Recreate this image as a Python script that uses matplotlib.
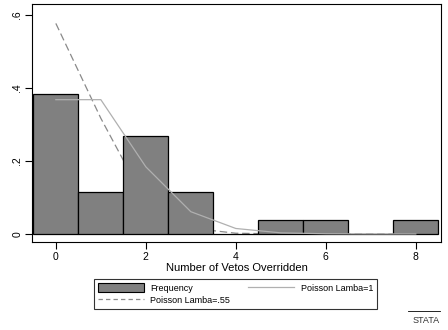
import matplotlib
matplotlib.use("Agg")
from matplotlib import pyplot as plt
from matplotlib.patches import Patch
from matplotlib.lines import Line2D

plt.rcParams['font.family'] = ['Liberation Sans', 'DejaVu Sans']

# Histogram of overridden vetoes (density) and two Poisson fits
vetos = [0, 1, 2, 3, 4, 5, 6, 7, 8]
freq = [0.3846, 0.1154, 0.2692, 0.1154, 0.0, 0.0385, 0.0385, 0.0, 0.0385]
poisson_1 = [0.368, 0.368, 0.184, 0.061, 0.015, 0.003, 0.0005, 0.0001, 0.0]
poisson_55 = [0.577, 0.317, 0.087, 0.016, 0.002, 0.0002, 0.0, 0.0, 0.0]

fig = plt.figure(figsize=(4.48, 3.3), dpi=100)
ax = fig.add_axes([0.0714, 0.2667, 0.913, 0.721])

ax.bar(vetos, freq, width=1.0, color='#808080', edgecolor='black', linewidth=0.9, zorder=2)
ax.plot(vetos, poisson_1, color='#b0b0b0', linewidth=0.9, zorder=3)
ax.plot(vetos, poisson_55, color='#8a8a8a', linewidth=0.9, dashes=(6, 3), zorder=1.5)

ax.set_xlim(-0.53, 8.56)
ax.set_ylim(-0.022, 0.63)
ax.set_xticks([0, 2, 4, 6, 8])
ax.set_yticks([0, 0.2, 0.4, 0.6])
ax.set_yticklabels(['0', '.2', '.4', '.6'], rotation=90, va='center')
ax.tick_params(axis='both', direction='out', length=5, width=0.8, labelsize=7.5, pad=2)
for s in ax.spines.values():
    s.set_linewidth(0.8)

ax.set_xlabel('Number of Vetos Overridden', fontsize=8, labelpad=1)

handles = [Patch(facecolor='#808080', edgecolor='black', linewidth=0.8),
           Line2D([], [], color='#8a8a8a', linewidth=0.9, dashes=(3.5, 2.5)),
           Line2D([], [], color='#b0b0b0', linewidth=0.9)]
labels = ['Frequency', 'Poisson Lamba=.55', 'Poisson Lamba=1']
leg = fig.legend(handles, labels, ncol=2, loc='center', bbox_to_anchor=(0.526, 0.109),
                 fontsize=6.5, frameon=True, fancybox=False, edgecolor='black',
                 columnspacing=2.0, handlelength=5.1, handleheight=1.1, handletextpad=0.7,
                 borderpad=0.45, labelspacing=0.33, borderaxespad=0)
leg.get_frame().set_linewidth(0.8)

fig.text(0.982, 0.015, 'STATA', fontsize=6.5, ha='right', va='bottom', color='#333333')
fig.add_artist(Line2D([0.911, 0.982], [0.058, 0.058], color='black', linewidth=0.6,
                      transform=fig.transFigure))

fig.savefig('out.png', dpi=100)
